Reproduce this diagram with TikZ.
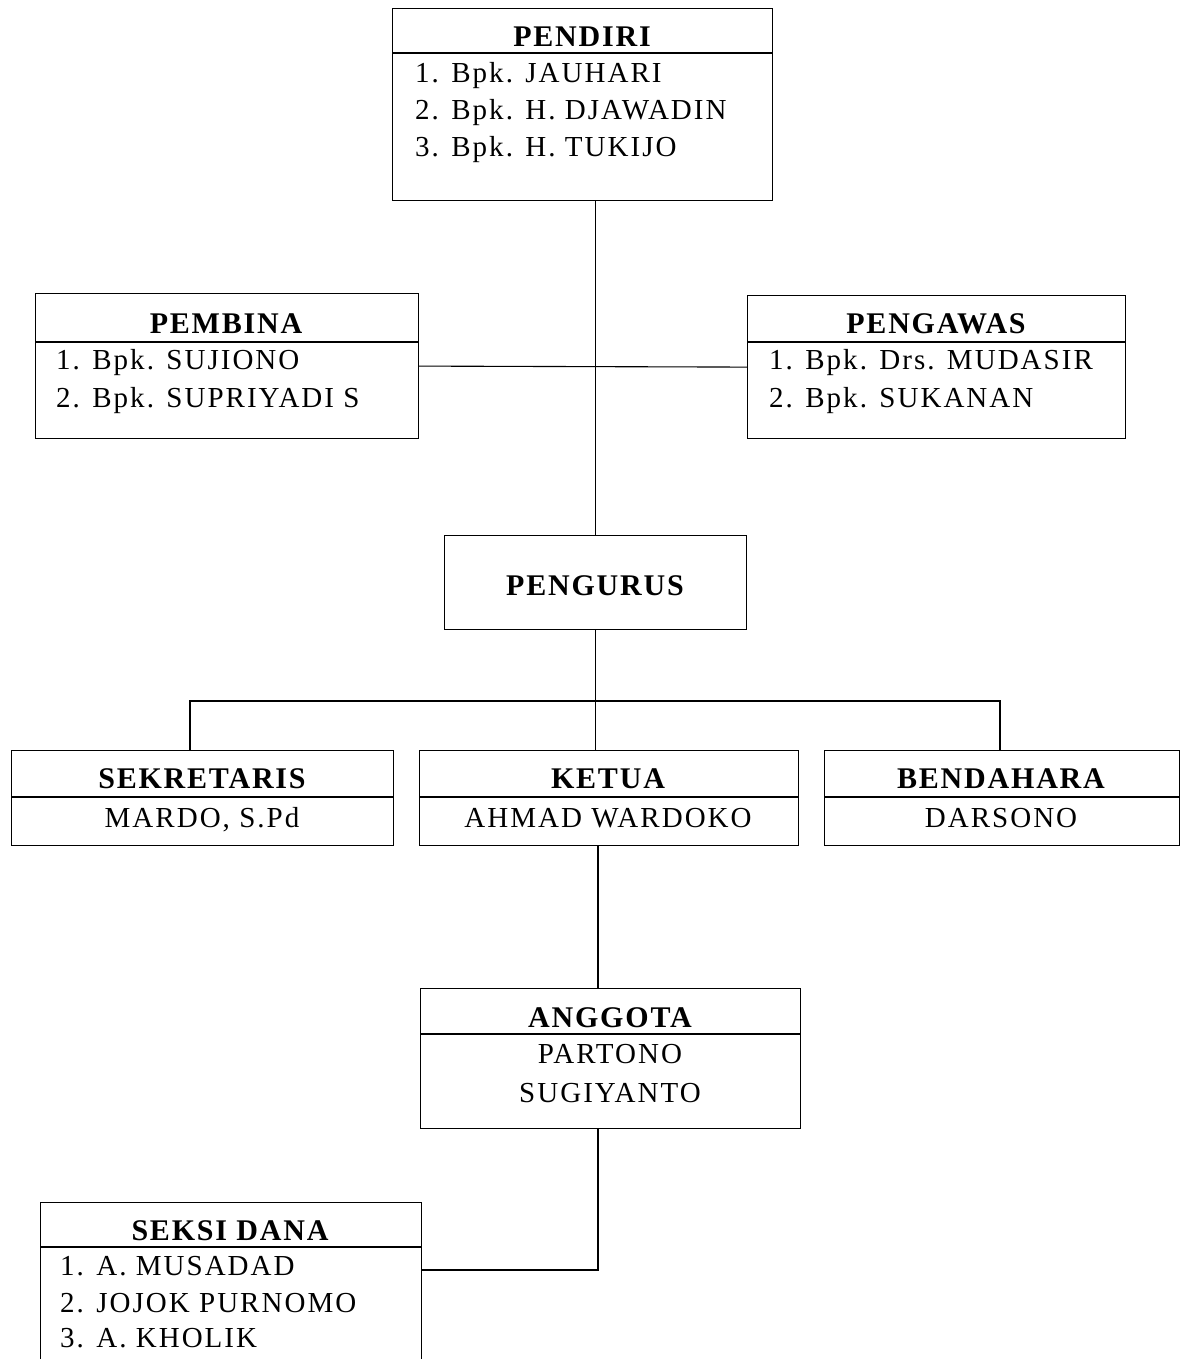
\documentclass[tikz,border=0pt]{standalone}
\usepackage{fontspec}
\setmainfont{Liberation Serif}
\newfontfamily\itfont[LetterSpace=7]{Liberation Serif}
\newfontfamily\tlfont[LetterSpace=6]{Liberation Serif}
\usetikzlibrary{calc}
\tikzset{
  box/.style={draw, line width=1.2pt, inner sep=0pt, anchor=north west},
  ttl/.style={font=\tlfont\fontsize{30}{30}\selectfont\bfseries, anchor=base, inner sep=0pt},
  itm/.style={font=\itfont\fontsize{29}{29}\selectfont, anchor=base west, inner sep=0pt},
  ctr/.style={font=\itfont\fontsize{29}{29}\selectfont, anchor=base, inner sep=0pt},
  conn/.style={line width=1.1pt},
  divl/.style={line width=1.2pt}
}
\begin{document}
\begin{tikzpicture}[x=1pt,y=-1pt]
\clip (0,0) rectangle (1183,1359);
\fill[white] (0,0) rectangle (1183,1359);

% PENDIRI
\node[box, minimum width=380pt, minimum height=192pt] (pendiri) at (392,8) {};
\draw[divl] ($(pendiri.north west)+(0,45)$) -- ($(pendiri.north east)+(0,45)$);
\node[ttl] (pendiriT) at (582,47) {PENDIRI};
\node[itm] (pendiri1) at (415,83) {1. Bpk. JAUHARI};
\node[itm] (pendiri2) at (415,120) {2. Bpk. H. DJAWADIN};
\node[itm] (pendiri3) at (415,157) {3. Bpk. H. TUKIJO};

% PEMBINA
\node[box, minimum width=383pt, minimum height=145pt] (pembina) at (35,293) {};
\draw[divl] ($(pembina.north west)+(0,49)$) -- ($(pembina.north east)+(0,49)$);
\node[ttl] (pembinaT) at (226,333) {PEMBINA};
\node[itm] (pembina1) at (56,369) {1. Bpk. SUJIONO};
\node[itm] (pembina2) at (56,407) {2. Bpk. SUPRIYADI S};

% PENGAWAS
\node[box, minimum width=378pt, minimum height=143pt] (pengawas) at (747,295) {};
\draw[divl] ($(pengawas.north west)+(0,47)$) -- ($(pengawas.north east)+(0,47)$);
\node[ttl] (pengawasT) at (936,333) {PENGAWAS};
\node[itm] (pengawas1) at (769,369) {1. Bpk. Drs. MUDASIR};
\node[itm] (pengawas2) at (769,407) {2. Bpk. SUKANAN};

% PENGURUS
\node[box, minimum width=302pt, minimum height=94pt] (pengurus) at (444,535) {};
\node[ttl] (pengurusT) at (595,595) {PENGURUS};

% SEKRETARIS / KETUA / BENDAHARA
\node[box, minimum width=382pt, minimum height=95pt] (sek) at (11,750) {};
\draw[divl] ($(sek.north west)+(0,47)$) -- ($(sek.north east)+(0,47)$);
\node[ttl] (sekT) at (202,788) {SEKRETARIS};
\node[ctr] (sekN) at (202,827) {MARDO, S.Pd};

\node[box, minimum width=379pt, minimum height=95pt] (ketua) at (419,750) {};
\draw[divl] ($(ketua.north west)+(0,47)$) -- ($(ketua.north east)+(0,47)$);
\node[ttl] (ketuaT) at (608,788) {KETUA};
\node[ctr] (ketuaN) at (608,827) {AHMAD WARDOKO};

\node[box, minimum width=355pt, minimum height=95pt] (bend) at (824,750) {};
\draw[divl] ($(bend.north west)+(0,47)$) -- ($(bend.north east)+(0,47)$);
\node[ttl] (bendT) at (1001,788) {BENDAHARA};
\node[ctr] (bendN) at (1001,827) {DARSONO};

% ANGGOTA
\node[box, minimum width=380pt, minimum height=140pt] (anggota) at (420,988) {};
\draw[divl] ($(anggota.north west)+(0,46)$) -- ($(anggota.north east)+(0,46)$);
\node[ttl] (anggotaT) at (610,1027) {ANGGOTA};
\node[ctr] (anggota1) at (610,1063) {PARTONO};
\node[ctr] (anggota2) at (610,1102) {SUGIYANTO};

% SEKSI DANA
\node[box, minimum width=381pt, minimum height=200pt] (seksi) at (40,1202) {};
\draw[divl] ($(seksi.north west)+(0,45)$) -- ($(seksi.north east)+(0,45)$);
\node[ttl] (seksiT) at (230,1240) {SEKSI DANA};
\node[itm] (seksi1) at (60,1275) {1. A. MUSADAD};
\node[itm] (seksi2) at (60,1312) {2. JOJOK PURNOMO};
\node[itm] (seksi3) at (60,1347) {3. A. KHOLIK};

% connectors
\coordinate (jl) at (190,701);
\coordinate (jr) at (1000,701);
\coordinate (kx) at (598,0);
\coordinate (sd) at (598,1270);
\draw[conn] (pengurus.north |- pendiri.south) -- (pengurus.north);
\draw[conn] (pembina.east) -- (pengawas.west);
\draw[conn] (pengurus.south) -- (pengurus.south |- ketua.north);
\draw[conn] (jl |- sek.north) -- (jl) -- (jr) -- (jr |- bend.north);
\draw[conn] (kx |- ketua.south) -- (kx |- anggota.north);
\draw[conn] (kx |- anggota.south) -- (sd) -- (sd -| seksi.east);
\end{tikzpicture}
\end{document}
